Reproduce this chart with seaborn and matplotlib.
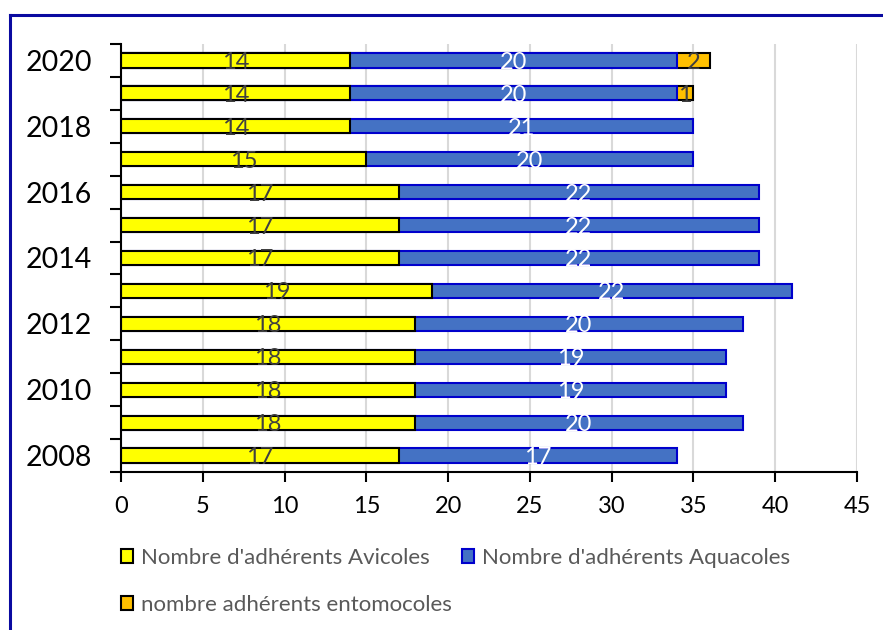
import matplotlib
matplotlib.use("Agg")
import matplotlib.pyplot as plt
from matplotlib.lines import Line2D
from matplotlib.patches import Patch
from matplotlib.ticker import FixedLocator, NullFormatter
import seaborn as sns
import pandas as pd
import numpy as np

# Membership counts per year
years = [2008, 2009, 2010, 2011, 2012, 2013, 2014, 2015, 2016, 2017, 2018, 2019, 2020]
avicoles = [17, 18, 18, 18, 18, 19, 17, 17, 17, 15, 14, 14, 14]
aquacoles = [17, 20, 19, 19, 20, 22, 22, 22, 22, 20, 21, 20, 20]
entomocoles = [0, 0, 0, 0, 0, 0, 0, 0, 0, 0, 0, 1, 2]

labels = ["Nombre d'adhérents Avicoles",
          "Nombre d'adhérents Aquacoles",
          "nombre adhérents entomocoles"]

sns.set_theme(style="white")
plt.rcParams["font.family"] = ["Lato", "DejaVu Sans"]

df = pd.DataFrame({"year": [str(y) for y in years],
                   "avi": avicoles, "aqua": aquacoles, "ento": entomocoles})
df["cum_aqua"] = df["avi"] + df["aqua"]
df["cum_ento"] = df["cum_aqua"] + df["ento"]
order = [str(y) for y in years[::-1]]

YELLOW, BLUE, ORANGE = "#FFFF00", "#4472C4", "#FFC000"
BLUE_EDGE = "#0000CC"

fig = plt.figure(figsize=(8.83, 6.30), dpi=100)
ax = fig.add_axes([121 / 883, 1 - 472 / 630, (857 - 121) / 883, (472 - 44) / 630])

bw = 0.43
# stacked bars drawn as overlapping cumulative totals
sns.barplot(data=df[df["ento"] > 0], x="cum_ento", y="year", order=order, orient="h",
            color=ORANGE, saturation=1, width=bw, edgecolor="black", linewidth=1.5, ax=ax)
sns.barplot(data=df, x="cum_aqua", y="year", order=order, orient="h",
            color=BLUE, saturation=1, width=bw, edgecolor=BLUE_EDGE, linewidth=1.5, ax=ax)
sns.barplot(data=df, x="avi", y="year", order=order, orient="h",
            color=YELLOW, saturation=1, width=bw, edgecolor="black", linewidth=1.5, ax=ax)

# centred value labels
LBL = 17
for i, yr in enumerate(order):
    row = df[df["year"] == yr].iloc[0]
    yc = i + 0.06
    ax.text(row["avi"] / 2, yc, f"{row['avi']}", ha="center", va="center",
            fontsize=LBL, color="#404040")
    ax.text(row["avi"] + row["aqua"] / 2, yc, f"{row['aqua']}", ha="center", va="center",
            fontsize=LBL, color="white")
    if row["ento"] > 0:
        ax.text(row["cum_aqua"] + row["ento"] / 2, yc, f"{row['ento']}", ha="center",
                va="center", fontsize=LBL, color="#404040")

ax.set_xlim(0, 45)
ax.set_ylim(12.5, -0.5)
ax.set_xticks(np.arange(0, 46, 5))
ax.tick_params(axis="x", labelsize=17, length=7, width=1.5, color="black",
               direction="out", pad=10, labelcolor="black", bottom=True)
ax.xaxis.grid(True, color="#D9D9D9", linewidth=1.5)
ax.yaxis.grid(False)
ax.set_axisbelow(True)

# y ticks at category boundaries, year labels on every other row
ax.yaxis.set_major_locator(FixedLocator(np.arange(-0.5, 13, 1)))
ax.yaxis.set_major_formatter(NullFormatter())
ax.yaxis.set_minor_locator(FixedLocator(list(range(0, 13, 2))))
ax.set_yticklabels([order[i] for i in range(0, 13, 2)], minor=True)
ax.tick_params(axis="y", which="major", length=8, width=1.5, color="black", left=True)
ax.tick_params(axis="y", which="minor", length=0, pad=21, labelsize=20.5, labelcolor="black")
ax.set_xlabel("")
ax.set_ylabel("")

for side in ["top", "right"]:
    ax.spines[side].set_visible(False)
for side in ["left", "bottom"]:
    ax.spines[side].set_color("black")
    ax.spines[side].set_linewidth(1.5)

handles = [Patch(facecolor=YELLOW, edgecolor="black", linewidth=1.5),
           Patch(facecolor=ORANGE, edgecolor="black", linewidth=1.5),
           Patch(facecolor=BLUE, edgecolor=BLUE_EDGE, linewidth=1.5)]
fig.legend(handles, [labels[0], labels[2], labels[1]], ncol=2, loc="upper left",
           bbox_to_anchor=(121 / 883, 1 - 548 / 630), frameon=False, fontsize=16,
           labelcolor="#595959", handlelength=0.55, handleheight=0.55,
           handletextpad=0.35, columnspacing=0.45, labelspacing=1.2,
           borderpad=0, borderaxespad=0)

# outer frame
frame_color = "#0A0AA0"
fig.add_artist(Line2D([10 / 883, 10 / 883], [0, 1 - 15 / 630], transform=fig.transFigure,
                      color=frame_color, linewidth=2.2, solid_capstyle="projecting"))
fig.add_artist(Line2D([10 / 883, 1], [1 - 15 / 630, 1 - 15 / 630], transform=fig.transFigure,
                      color=frame_color, linewidth=2.2, solid_capstyle="projecting"))

fig.savefig("out.png", dpi=100)
